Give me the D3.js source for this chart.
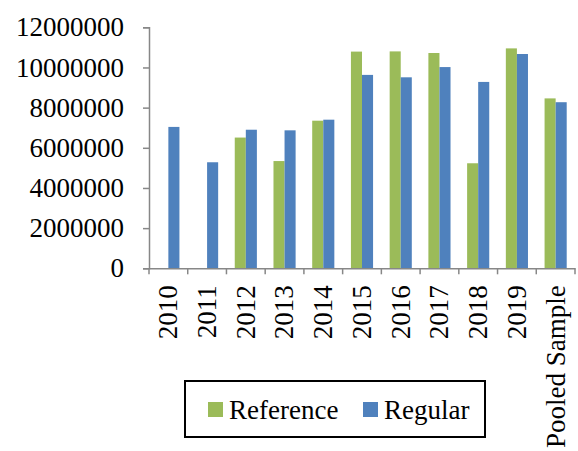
<!DOCTYPE html>
<html>
<head>
<meta charset="utf-8">
<script src="https://cdn.jsdelivr.net/npm/d3@7"></script>
<style>
  html, body { margin: 0; padding: 0; background: #fff; }
  svg { display: block; }
  svg text { font-family: "Liberation Serif", "Times New Roman", Times, "DejaVu Serif", serif; }
</style>
</head>
<body>
<svg id="chart" width="578" height="451"></svg>
<script>
// Categories and series values
const categories = ["2010", "2011", "2012", "2013", "2014", "2015", "2016", "2017", "2018", "2019", "Pooled Sample"];
const seriesNames = ["Reference", "Regular"];
const referenceValues = [null, null, 6510000, 5340000, 7350000, 10790000, 10800000, 10720000, 5230000, 10950000, 8460000];
const regularValues = [7040000, 5280000, 6900000, 6870000, 7400000, 9630000, 9510000, 10020000, 9280000, 10670000, 8270000];
const yTicks = [0, 2000000, 4000000, 6000000, 8000000, 10000000, 12000000];
const colors = { Reference: "#9BBB59", Regular: "#4F81BD" };

const svg = d3.select("#chart");
const plot = { left: 149, right: 575, top: 27.3, bottom: 268.3 };
const axisColor = "#878787";
const fontSize = 27;

const x = d3.scaleBand().domain(categories).range([plot.left, plot.right]).padding(0);
const bw = x.bandwidth();
// gap of 150% of one bar width between groups
const barW = bw / 3.5;
const xInner = d3.scaleBand().domain(seriesNames).range([barW * 0.75, bw - barW * 0.75]).padding(0);
const y = d3.scaleLinear().domain([0, 12000000]).range([plot.bottom, plot.top]);

const rows = categories.map((c, i) => ({ cat: c, Reference: referenceValues[i], Regular: regularValues[i] }));

// Bars
const groups = svg.append("g").selectAll("g").data(rows).join("g")
  .attr("transform", d => `translate(${x(d.cat)},0)`);
groups.selectAll("rect")
  .data(d => seriesNames.map(s => ({ s, v: d[s] })).filter(e => e.v != null))
  .join("rect")
  .attr("x", e => xInner(e.s))
  .attr("width", xInner.bandwidth())
  .attr("y", e => y(e.v))
  .attr("height", e => y(0) - y(e.v))
  .attr("fill", e => colors[e.s]);

// Y axis
const yAxis = svg.append("g").attr("transform", `translate(${plot.left},0)`)
  .call(d3.axisLeft(y).tickValues(yTicks).tickFormat(d3.format("d")).tickSize(6).tickPadding(19));
yAxis.attr("font-family", null).attr("font-size", null);
yAxis.select(".domain").attr("stroke", axisColor).attr("stroke-width", 1.5);
yAxis.selectAll(".tick line").attr("stroke", axisColor).attr("stroke-width", 1.5);
yAxis.selectAll(".tick text").attr("font-size", fontSize).attr("fill", "#000");

// X axis: baseline, boundary ticks and rotated labels
const xAxis = svg.append("g").attr("transform", `translate(0,${plot.bottom})`)
  .call(d3.axisBottom(x).tickSize(0).tickPadding(0));
xAxis.attr("font-family", null).attr("font-size", null);
xAxis.select(".domain").attr("stroke", axisColor).attr("stroke-width", 1.5);
xAxis.selectAll(".tick text")
  .attr("font-size", fontSize).attr("fill", "#000")
  .attr("text-anchor", "end")
  .attr("y", 0).attr("dy", "0.33em")
  .attr("transform", "translate(0,17) rotate(-90)");
const boundaries = categories.map(c => x(c)).concat([x.range()[1]]);
xAxis.append("g").selectAll("line").data(boundaries).join("line")
  .attr("x1", d => d).attr("x2", d => d)
  .attr("y1", 0).attr("y2", 6)
  .attr("stroke", axisColor).attr("stroke-width", 1.5);

// Legend
const legend = svg.append("g");
legend.append("rect")
  .attr("x", 185).attr("y", 381).attr("width", 300).attr("height", 56)
  .attr("fill", "#fff").attr("stroke", "#000").attr("stroke-width", 2);
const legendItems = [{ s: "Reference", x: 208 }, { s: "Regular", x: 363 }];
legendItems.forEach(it => {
  legend.append("rect").attr("x", it.x).attr("y", 402).attr("width", 15).attr("height", 15)
    .attr("fill", colors[it.s]);
  legend.append("text").attr("x", it.x + 21).attr("y", 419)
    .attr("font-size", fontSize).attr("fill", "#000").text(it.s);
});
</script>
</body>
</html>
